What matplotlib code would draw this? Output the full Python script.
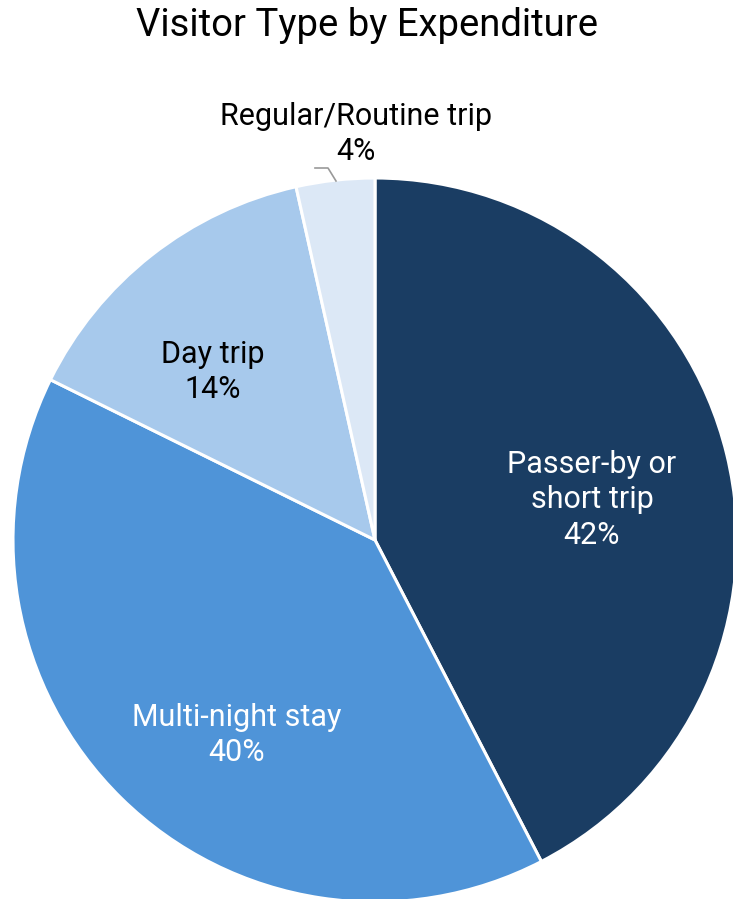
import numpy as np
import matplotlib.pyplot as plt

plt.rcParams['font.family'] = ['Roboto', 'DejaVu Sans']

# visitor type shares (percent of expenditure), clockwise from 12 o'clock
categories = ['Passer-by or\nshort trip', 'Multi-night stay', 'Day trip', 'Regular/Routine trip']
shares = [42.4, 39.9, 14.2, 3.5]
pct_labels = ['42%', '40%', '14%', '4%']
colors = ['#1a3d63', '#4f94d8', '#a7c9ec', '#dce8f6']
text_colors = ['white', 'white', 'black', 'black']

W, H = 733, 899
fig = plt.figure(figsize=(W / 100, H / 100), dpi=100)
ax = fig.add_axes([0, 0, 1, 1])

cx, cy, R = 375, H - 540, 362
wedges, _ = ax.pie(shares, colors=colors, startangle=90, counterclock=False,
                   center=(cx, cy), radius=R, frame=True,
                   wedgeprops=dict(edgecolor='white', linewidth=2.2))
ax.set_xlim(0, W)
ax.set_ylim(0, H)
ax.set_aspect('equal')
ax.axis('off')

fs = 22
# label block centres in pixels (from top-left)
label_pos = [(592, 500), (237, 735), (213, 372), (356, 134)]
for name, pct, tc, (px, py) in zip(categories, pct_labels, text_colors, label_pos):
    ax.text(px, H - py, name + '\n' + pct, ha='center', va='center', color=tc,
            fontsize=fs, linespacing=1.3)

# leader line for the small slice
ax.plot([315, 328, 336], [H - 168, H - 168, H - 181], color='#999999', lw=1.2)

ax.text(W / 2, H - 26, 'Visitor Type by Expenditure', ha='center', va='center',
        fontsize=27.5, color='black')

fig.savefig('out.png', dpi=100)
